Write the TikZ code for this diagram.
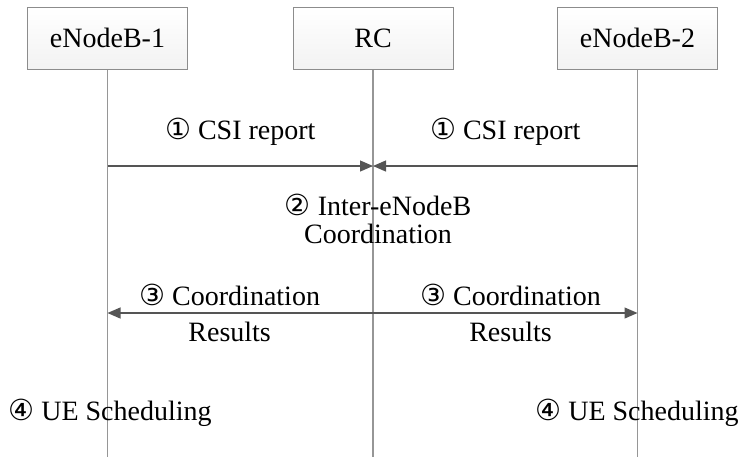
\documentclass[tikz,border=0pt]{standalone}
\usepackage{fontspec}
\usepackage{tikz}
\usepackage{xcolor}
\usetikzlibrary{arrows.meta, positioning}
\setmainfont{Liberation Serif}
\newfontfamily\circfont{DejaVu Sans}
\newcommand{\stepno}[1]{{\circfont\fontsize{14.5pt}{14pt}\selectfont #1}}
\definecolor{boxgray}{RGB}{140, 140, 140}
\definecolor{linegray}{RGB}{150, 150, 150}
\definecolor{arrgray}{RGB}{85, 85, 85}

\begin{document}
\begin{tikzpicture}[x=0.5pt,y=-0.5pt,
          ent/.style={draw=boxgray,line width=0.5pt,top color=white,bottom color=gray!10,
                      minimum width=80pt,minimum height=31pt,inner sep=0pt},
          life/.style={draw=linegray,line width=0.6pt},
          msg/.style={draw=arrgray,line width=0.6pt,-{Triangle[length=6.5pt,width=5.5pt]}},
          lbl/.style={align=center,inner sep=0pt}]
        \useasboundingbox (0,0) rectangle (740,457);
        \fontsize{14pt}{14pt}\selectfont
        % entities
        \node[ent](enb1) at (107.5,38) {eNodeB-1};
        \node[ent](rc)   at (373,38)   {RC};
        \node[ent](enb2) at (637.5,38) {eNodeB-2};
        % lifelines
        \coordinate (enb1end) at (107.5,457);
        \coordinate (rcend)   at (373,457);
        \coordinate (enb2end) at (637.5,457);
        \draw[life](enb1)--(enb1end);
        \draw[life](rc)--(rcend);
        \draw[life](enb2)--(enb2end);
        % message points
        \coordinate (csi1) at (107.5,166);
        \coordinate (csirc) at (373,166);
        \coordinate (csi2) at (637.5,166);
        \coordinate (res1) at (107.5,313);
        \coordinate (resrc) at (373,313);
        \coordinate (res2) at (637.5,313);
        % messages
        \draw[msg](csi1)--(csirc)
          node[lbl,midway,above=10pt]{\stepno{①} CSI report};
        \draw[msg](csi2)--(csirc)
          node[lbl,midway,above=10pt]{\stepno{①} CSI report};
        \draw[msg](resrc)--(res1)
          node[lbl,pos=0.54](reslbl1){\stepno{③} Coordination\\[4pt]Results};
        \draw[msg](resrc)--(res2)
          node[lbl,pos=0.52](reslbl2){\stepno{③} Coordination\\[4pt]Results};
        \node[lbl](coord) at (378,219) {\stepno{②} Inter-eNodeB\\Coordination};
        \node[lbl](sched1) at (110,413) {\stepno{④} UE Scheduling};
        \node[lbl](sched2) at (637,413) {\stepno{④} UE Scheduling};
      \end{tikzpicture}
\end{document}
